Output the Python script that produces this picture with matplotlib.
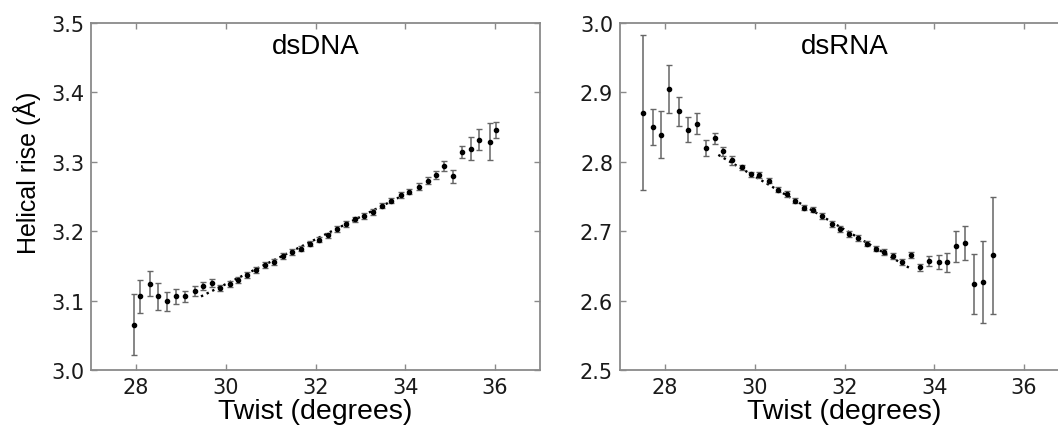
import matplotlib
matplotlib.use('Agg')
import matplotlib.pyplot as plt

# dsDNA: twist (deg), helical rise (A), error
dna_x = [27.96, 28.10, 28.31, 28.50, 28.70, 28.90, 29.10, 29.31, 29.50, 29.70,
         29.88, 30.09, 30.27, 30.47, 30.68, 30.88, 31.08, 31.28, 31.48, 31.68,
         31.88, 32.07, 32.27, 32.47, 32.68, 32.87, 33.09, 33.29, 33.48, 33.68,
         33.90, 34.09, 34.31, 34.50, 34.68, 34.87, 35.07, 35.26, 35.47, 35.64,
         35.88, 36.03]
dna_y = [3.065, 3.106, 3.124, 3.106, 3.099, 3.106, 3.106, 3.114, 3.121, 3.125,
         3.118, 3.124, 3.130, 3.137, 3.144, 3.151, 3.156, 3.164, 3.170, 3.175,
         3.182, 3.188, 3.194, 3.203, 3.210, 3.217, 3.222, 3.228, 3.237, 3.244,
         3.252, 3.257, 3.264, 3.273, 3.281, 3.294, 3.279, 3.314, 3.319, 3.332,
         3.329, 3.346]
dna_err = [0.044, 0.024, 0.018, 0.019, 0.014, 0.011, 0.008, 0.007, 0.006, 0.006,
           0.004, 0.004, 0.004, 0.004, 0.004, 0.004, 0.004, 0.004, 0.004, 0.004,
           0.004, 0.004, 0.004, 0.004, 0.004, 0.004, 0.004, 0.004, 0.004, 0.004,
           0.004, 0.004, 0.005, 0.005, 0.006, 0.007, 0.009, 0.009, 0.017, 0.015,
           0.027, 0.012]
dna_fit_x = [29.45, 31.5, 33.9]
dna_fit_y = [3.106, 3.172, 3.250]

# dsRNA
rna_x = [27.52, 27.74, 27.91, 28.10, 28.32, 28.52, 28.72, 28.91, 29.12, 29.30,
         29.50, 29.71, 29.91, 30.10, 30.31, 30.52, 30.72, 30.90, 31.10, 31.29,
         31.50, 31.72, 31.89, 32.09, 32.30, 32.50, 32.71, 32.89, 33.08, 33.28,
         33.49, 33.69, 33.89, 34.10, 34.28, 34.49, 34.69, 34.89, 35.08, 35.30]
rna_y = [2.871, 2.850, 2.839, 2.905, 2.873, 2.846, 2.855, 2.820, 2.834, 2.815,
         2.802, 2.792, 2.782, 2.781, 2.773, 2.760, 2.754, 2.744, 2.734, 2.731,
         2.722, 2.710, 2.703, 2.696, 2.690, 2.682, 2.675, 2.670, 2.664, 2.656,
         2.666, 2.648, 2.657, 2.656, 2.655, 2.678, 2.683, 2.624, 2.627, 2.665]
rna_err = [0.112, 0.026, 0.034, 0.035, 0.021, 0.018, 0.015, 0.011, 0.008, 0.006,
           0.006, 0.004, 0.004, 0.004, 0.004, 0.004, 0.004, 0.004, 0.004, 0.004,
           0.004, 0.004, 0.004, 0.004, 0.004, 0.004, 0.004, 0.004, 0.004, 0.004,
           0.004, 0.005, 0.007, 0.010, 0.014, 0.022, 0.024, 0.043, 0.059, 0.084]
rna_fit_x = [29.19, 31.5, 33.5]
rna_fit_y = [2.810, 2.7215, 2.645]

panels = [
    ('dsDNA', dna_x, dna_y, dna_err, dna_fit_x, dna_fit_y, (3.0, 3.5),
     [3.0, 3.1, 3.2, 3.3, 3.4, 3.5]),
    ('dsRNA', rna_x, rna_y, rna_err, rna_fit_x, rna_fit_y, (2.5, 3.0),
     [2.5, 2.6, 2.7, 2.8, 2.9, 3.0]),
]
xticks = [28, 30, 32, 34, 36]

gray = '#8a8a8a'
fig = plt.figure(figsize=(10.58, 4.27), dpi=100)
lefts = [91 / 1058, 620 / 1058]
label_font = 'Liberation Sans'

for left, (name, x, y, err, fx, fy, ylim, yticks) in zip(lefts, panels):
    ax = fig.add_axes([left, 1 - 371 / 427, 449 / 1058, 347 / 427])
    ax.plot(fx, fy, color='k', ls=':', lw=1.7, zorder=2)
    ax.errorbar(x, y, yerr=err, fmt='o', ms=3.0, mfc='k', mec='k',
                ecolor='#666666', elinewidth=1.1, capsize=2.2, capthick=1.0,
                zorder=3)
    ax.set_xlim(27, 37)
    ax.set_ylim(*ylim)
    ax.set_xticks(xticks)
    ax.set_yticks(yticks)
    ax.set_yticklabels(['%.1f' % v for v in yticks])
    ax.tick_params(direction='in', length=4, width=1, color=gray,
                   top=True, right=True, labelsize=15, pad=5,
                   labelcolor='#1a1a1a')
    for s in ax.spines.values():
        s.set_color(gray)
        s.set_linewidth(1.3)
    ax.text(0.5, 0.934, name, transform=ax.transAxes, ha='center',
            va='center', fontsize=20, family=label_font)
    ax.set_xlabel('Twist (degrees)', fontsize=20.5, family=label_font,
                  labelpad=1)

fig.text(27 / 1058, 1 - 173 / 427, 'Helical rise (Å)', rotation=90,
         ha='center', va='center', fontsize=18, family=label_font)

fig.savefig('out.png', dpi=100)
